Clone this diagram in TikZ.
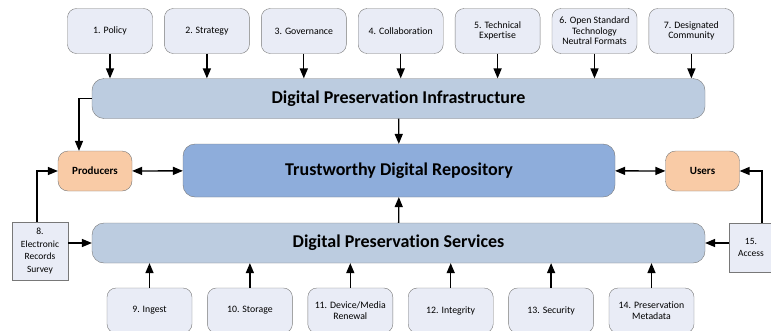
\documentclass[tikz,border=0pt]{standalone}
\usepackage{fontspec}
\setmainfont{Carlito}[Ligatures=NoCommon]
\usetikzlibrary{arrows,positioning}
\definecolor{factorfill}{RGB}{233,236,246}
\definecolor{layerfill}{RGB}{188,204,224}
\definecolor{repofill}{RGB}{142,173,219}
\definecolor{actorfill}{RGB}{249,203,166}
\definecolor{edgegray}{RGB}{120,120,120}

\begin{document}
\begin{tikzpicture}
    [x=1pt,y=-1pt,>=triangle 45,
    factor/.style={draw=edgegray,fill=factorfill,rounded corners=9pt,minimum width=85pt,
      minimum height=45pt,inner sep=1pt,align=center,font=\fontsize{9.8}{10.5}\selectfont},
    sidebox/.style={draw=edgegray,fill=factorfill,align=center,inner sep=1pt,
      font=\fontsize{9.5}{12.5}\selectfont},
    layer/.style={draw=edgegray,fill=layerfill,rounded corners=12pt,minimum width=613pt,
      minimum height=40pt,font=\fontsize{18}{21}\selectfont\bfseries},
    actor/.style={draw=edgegray,fill=actorfill,rounded corners=10pt,minimum width=74pt,
      minimum height=40pt,font=\fontsize{11}{13}\selectfont\bfseries},
    post/.style={->,semithick,line width=1.3pt},
    both/.style={<->,semithick,line width=1.3pt}]
    \clip (0,0) rectangle (771,330);
    \node[factor] (policy) at (110,31) {1. Policy};
    \node[factor] (strategy) [right=11.5pt of policy] {2. Strategy};
    \node[factor] (governance) [right=11.5pt of strategy] {3. Governance};
    \node[factor] (collaboration) [right=11.5pt of governance] {4. Collaboration};
    \node[factor] (expertise) [right=11.5pt of collaboration] {5. Technical\\Expertise};
    \node[factor] (formats) [right=11.5pt of expertise] {6. Open Standard\\Technology\\Neutral Formats};
    \node[factor] (community) [right=11.5pt of formats] {7. Designated\\Community};
    \node[layer] (infra) at (398.5,98.5) {Digital Preservation Infrastructure};
    \node[layer,fill=repofill,minimum width=432pt,minimum height=53pt] (repo) at (399,170.5)
      {Trustworthy Digital Repository};
    \node[actor] (producers) at (95,171) {Producers};
    \node[actor] (users) at (702.5,171) {Users};
    \node[layer] (services) at (398.5,243) {Digital Preservation Services};
    \node[sidebox,minimum width=56pt,minimum height=58pt] (survey) at (40,251)
      {8.\\Electronic\\Records\\Survey};
    \node[sidebox,minimum width=44pt,minimum height=49pt] (access) at (751,247.5)
      {15.\\Access};
    \node[factor] (ingest) at (149.5,310.5) {9. Ingest};
    \node[factor] (storage) [right=15pt of ingest] {10. Storage};
    \node[factor] (renewal) [right=15pt of storage] {11. Device/Media\\Renewal};
    \node[factor] (integrity) [right=15pt of renewal] {12. Integrity};
    \node[factor] (security) [right=15pt of integrity] {13. Security};
    \node[factor] (metadata) [right=15pt of security] {14. Preservation\\Metadata};
    \foreach \n in {policy,strategy,governance,collaboration,expertise,formats,community}
      \draw[post] (\n) -- (\n |- infra.north);
    \foreach \n in {ingest,storage,renewal,integrity,security,metadata}
      \draw[post] (\n) -- (\n |- services.south);
    \draw[post] (infra) -- (repo);
    \draw[post] (services) -- (repo);
    \draw[post] (infra.west) -| ([xshift=-16pt]producers.north);
    \draw[both] (producers) -- (repo);
    \draw[both] (repo) -- (users);
    \draw[post] ([xshift=-3pt]survey.north) |- (producers.west);
    \draw[post] (survey.east |- services.west) -- (services.west);
    \draw[post] ([xshift=11pt]access.north) |- (users.east);
    \draw[post] (access.west |- services.east) -- (services.east);
\end{tikzpicture}
\end{document}
